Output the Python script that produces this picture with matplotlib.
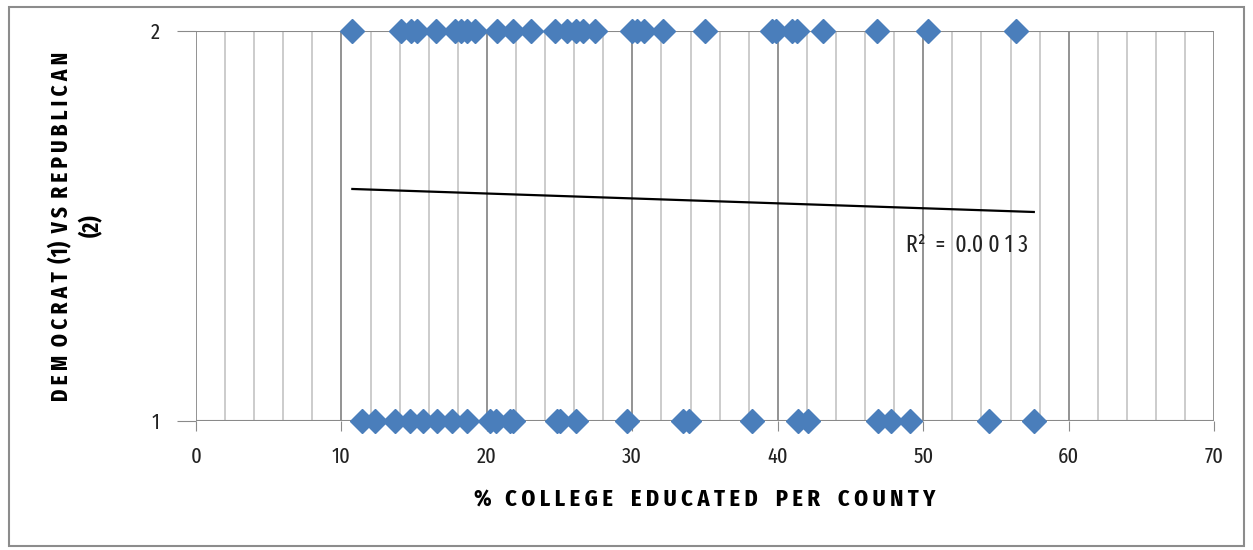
import numpy as np
import matplotlib.pyplot as plt
from matplotlib.patches import Rectangle

plt.rcParams['font.family'] = ['Fira Sans Extra Condensed', 'Carlito', 'DejaVu Sans']

# % college educated per county, split by party (1 = Democrat, 2 = Republican)
rep_x = [10.75, 14.1, 14.8, 15.2, 16.5, 17.8, 18.2, 18.6, 19.2, 20.7, 21.8, 23.0,
         24.7, 25.5, 26.1, 26.6, 27.4, 30.0, 30.3, 30.8, 32.1, 35.0, 39.6, 39.9,
         41.0, 41.3, 43.1, 46.8, 50.3, 56.4]
dem_x = [11.4, 12.3, 13.7, 14.7, 15.6, 16.6, 17.6, 18.6, 20.2, 20.6, 21.6, 21.8,
         24.8, 25.0, 26.1, 29.6, 33.5, 33.9, 38.2, 41.4, 42.1, 46.9, 47.8, 49.1,
         54.5, 57.6]

# linear trendline as drawn in the chart
trend_x = [10.75, 57.6]
trend_y = [1.595, 1.536]
r2_text = 'R\u00b2  =  0.0 0 1 3'

x_ticks = [0, 10, 20, 30, 40, 50, 60, 70]
y_ticks = [1, 2]

fig = plt.figure(figsize=(12.53, 5.5), dpi=100)
fig.patches.append(Rectangle((0.007, 0.008), 0.986, 0.98, transform=fig.transFigure,
                             fill=False, edgecolor='#8c8c8c', linewidth=1.5))
ax = fig.add_axes([0.1564, 0.2345, 0.8126, 0.7091])

# grid: light every 2, darker every 10
for v in np.arange(0, 71, 2):
    if v % 10 == 0:
        ax.axvline(v, color='#8a8a8a', lw=1.3, zorder=1)
    else:
        ax.axvline(v, color='#c8c8c8', lw=1.3, zorder=1)
for v in y_ticks:
    ax.axhline(v, color='#8a8a8a', lw=1.5, zorder=1)

blue = '#4a7ebb'
ax.plot(rep_x, [2] * len(rep_x), linestyle='none', marker='D', markersize=12.5,
        color=blue, markeredgecolor=blue, zorder=3, clip_on=False)
ax.plot(dem_x, [1] * len(dem_x), linestyle='none', marker='D', markersize=12.5,
        color=blue, markeredgecolor=blue, zorder=3, clip_on=False)

ax.plot(trend_x, trend_y, color='black', lw=1.6, zorder=2)
ax.text(53.0, 1.452, r2_text, fontsize=17, color='#222222', ha='center', va='center')

ax.set_xlim(0, 70)
ax.set_ylim(1, 2)
ax.set_xticks(x_ticks)
ax.set_yticks(y_ticks)
ax.set_xticklabels([str(t) for t in x_ticks], fontsize=16, color='#222222')
ax.set_yticklabels([str(t) for t in y_ticks], fontsize=16, color='#222222')
ax.tick_params(axis='x', length=7, color='#8a8a8a', pad=11)
ax.tick_params(axis='y', length=14, color='#8a8a8a', pad=12)
for s in ax.spines.values():
    s.set_visible(False)

ax.set_xlabel('%   C O L L E G E    E D U C A T E D    P E R    C O U N T Y',
              fontsize=17.5, fontweight='bold', va='center')
ax.xaxis.set_label_coords(0.5, -0.2026)
ax.set_ylabel('D E M  O C R A T  (1)  V S  R E P U B L I C A N\n(2)',
              fontsize=16.5, fontweight='bold', linespacing=1.35, va='center')
ax.yaxis.set_label_coords(-0.1174, 0.5)

fig.savefig('out.png', dpi=100)
